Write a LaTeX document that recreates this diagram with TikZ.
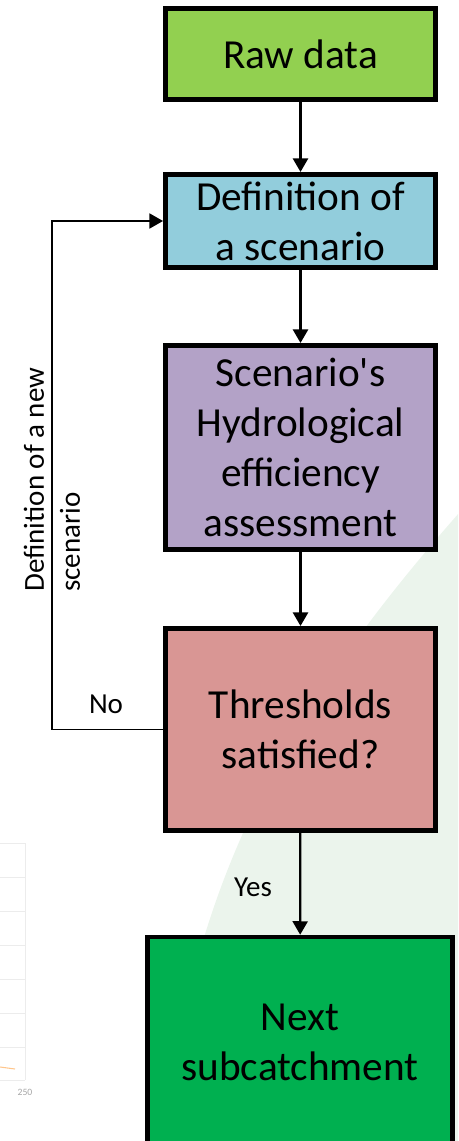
\documentclass[tikz,border=0pt]{standalone}
\usepackage{fontspec}
\setmainfont{Carlito}[Ligatures=TeXOff]
\usepackage{tikz}
\usepackage{xcolor}
\usetikzlibrary{arrows.meta, positioning}

\definecolor{rawgreen}{HTML}{92D050}
\definecolor{scenblue}{HTML}{92CDDC}
\definecolor{assesspurple}{HTML}{B3A2C7}
\definecolor{threshred}{HTML}{D99694}
\definecolor{nextgreen}{HTML}{00B050}
\definecolor{paleback}{RGB}{235,244,236}

\tikzset{
    flowbox/.style={rectangle, draw, line width=2.6pt, fill=#1, align=center,
        inner sep=0pt, minimum width=5.41cm,
        font=\fontsize{23.5}{28.5}\selectfont},
    flowarrow/.style={line width=1.3pt, -{Triangle[length=0.27cm, width=0.3cm]}},
    flowlabel/.style={inner sep=0pt, font=\fontsize{16.5}{20.5}\selectfont}
}

\begin{document}
\begin{tikzpicture}[x=0.02cm, y=-0.02cm]
        \clip (0, 0) rectangle (458, 1141);
        % faint background of the slide
        \fill[paleback] (475, 495) .. controls (300, 690) and (190, 870) .. (165, 1141)
            -- (458, 1141) -- cycle;
        \foreach \gy in {843, 877, 911, 945, 979, 1013, 1047, 1080}
            \draw[gray!15, line width=0.4pt] (0, \gy) -- (25, \gy);
        \draw[gray!15, line width=0.4pt] (25, 843) -- (25, 1080);
        \draw[orange!45, line width=0.6pt] (0, 1067) -- (15, 1069);
        \node[gray!70, font=\fontsize{5.5}{6}\selectfont, inner sep=0pt] (tick) at (25, 1092) {250};

        \node[flowbox=rawgreen, minimum height=1.83cm] at (300.5, 54) (raw) {Raw data};
        \node[flowbox=scenblue, minimum height=1.87cm] at (300.5, 221) (scen) {Definition of\\a scenario};
        \node[flowbox=assesspurple, minimum height=4.09cm] at (300.5, 447.5) (assess)
            {Scenario's\\Hydrological\\efficiency\\assessment};
        \node[flowbox=threshred, minimum height=4.05cm] at (300.5, 729.5) (thresh)
            {Thresholds\\satisfied?};
        \node[flowbox=nextgreen, minimum width=6.11cm, minimum height=4.22cm] at (300, 1042.5) (next)
            {Next\\subcatchment};

        \coordinate (loop) at (52, 729.5);
        \node[flowlabel] at (106, 713) [anchor=base] (no) {No};
        \node[flowlabel] at (253, 896) [anchor=base] (yes) {Yes};
        \node[flowlabel, rotate=90, anchor=west, align=left] at (52, 592) (newscen)
            {Definition of a new\\scenario};

        \draw[flowarrow] (raw) to (scen);
        \draw[flowarrow] (scen) to (assess);
        \draw[flowarrow] (assess) to (thresh);
        \draw[flowarrow] (thresh) to (next);
        \draw[flowarrow, line width=0.9pt] (thresh.west) -- (loop) |- (scen.west);
    \end{tikzpicture}
\end{document}
